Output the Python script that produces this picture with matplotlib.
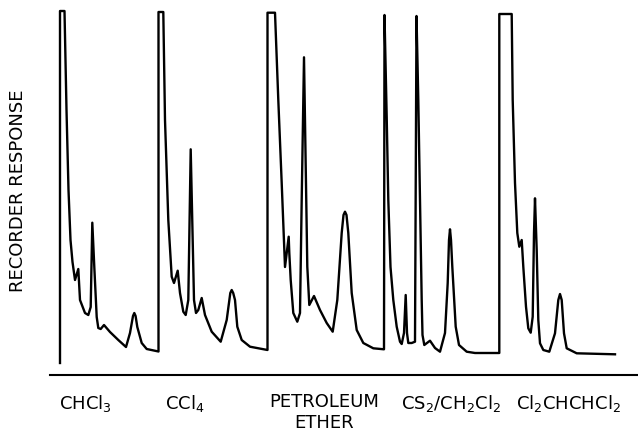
import matplotlib.pyplot as plt
import numpy as np

# chromatogram traces
# t = chart position (left to right), r = pen position measured down from the top of the chart
chcl3_t = [60, 60, 64.5, 66.5, 68.5, 70.5, 72.5, 75, 78.3, 80, 85, 88.3, 90.7, 92.3, 94.3,
           96.7, 98.3, 100.7, 104, 110, 118.3, 126, 130, 133, 134.3, 135.6, 137.3, 141.7,
           146.7, 158.5]
chcl3_r = [363, 11, 11, 110, 190, 240, 262, 280, 269, 300, 313, 315, 307, 222.7, 267,
           317, 328, 329, 325, 332, 340, 347, 333, 316, 313, 316, 327, 343,
           349, 351.5]

ccl4_t = [158.5, 158.5, 163.3, 165, 168.3, 171.7, 174, 177.7, 180, 183.3, 185.7, 188.3,
          190.7, 192.3, 194, 196, 198.3, 201.7, 205, 211.7, 220.7, 226.7, 230.3, 231.7,
          233.2, 235, 237.3, 241.7, 250, 267.5]
ccl4_r = [351.5, 12, 12, 120, 220, 276.7, 283, 270.7, 293, 311.7, 315, 300,
          149.3, 220, 300, 313, 310, 298, 315, 331.7, 341.7, 320, 293, 290,
          293, 300, 326.7, 340, 346.7, 350]

petrol_t = [267.5, 267.5, 275, 278.3, 281.7, 285, 288.7, 289.3, 290.7, 293.3, 297.3, 300,
            301.7, 304, 305.7, 307.3, 309.3, 314, 320, 326.7, 332.7, 337.3, 341.7, 343.5,
            345, 346.5, 348.3, 351.7, 356.7, 363.3, 373.3, 384]
petrol_r = [350, 12.7, 12.7, 100, 183, 267, 236.7, 253, 280, 313, 321.7, 313,
            200, 57.3, 166.7, 266.7, 305, 296, 310, 323, 331.7, 300, 233, 215,
            211.7, 215, 233, 293, 330, 343, 348.3, 349.3]

cs2_t = [384, 384.5, 386.7, 388.3, 390.5, 393.3, 396.7, 400, 401.7, 404, 405.7, 407,
         408.3, 411.7, 415, 416.5, 418.3, 420, 421.7, 422.5, 424.3, 430, 435, 440,
         445, 447.7, 449, 450, 451, 452.3, 455.7, 459, 466.7, 475, 499.3]
cs2_r = [349.3, 15, 117, 200, 267, 300, 326.7, 341.7, 344, 333, 295, 333,
         343, 343, 341.7, 16, 100, 200, 300, 335, 345, 340.7, 348, 351.7,
         333, 283, 240, 229.3, 240, 266.7, 326.7, 345, 351.7, 353, 353]

tce_t = [499.3, 499.3, 511.7, 512.7, 515, 517.3, 519.3, 521.7, 523.3, 526, 528.3, 530.7,
         532.7, 534, 535, 536.7, 538.3, 540, 543.3, 549.3, 555, 558.3, 560, 561.7,
         564, 566.7, 576.7, 615]
tce_r = [353, 14, 14, 100, 183, 233, 246.7, 240, 266.7, 306.7, 328.3, 332.7,
         316.7, 233, 198.3, 250, 320, 343.3, 350, 351.7, 333.3, 300, 294, 300,
         333.3, 348.3, 353.3, 354.3]

solvents = [r'CHCl$_3$', r'CCl$_4$', 'PETROLEUM\nETHER', r'CS$_2$/CH$_2$Cl$_2$',
            r'Cl$_2$CHCHCl$_2$']
solvent_pos = [85.5, 185, 324, 451, 568]

t = np.concatenate([chcl3_t, ccl4_t, petrol_t, cs2_t, tce_t])
r = np.concatenate([chcl3_r, ccl4_r, petrol_r, cs2_r, tce_r])

plt.rcParams['font.family'] = 'DejaVu Sans'

fig = plt.figure(figsize=(6.38, 4.37), dpi=100)
ax = fig.add_axes([50/638, 62/437, 588/638, 375/437])

ax.plot(t, r, color='black', linewidth=1.7, solid_joinstyle='round', clip_on=False)

ax.set_xlim(50, 638)
ax.set_ylim(375, 0)

for s in ['top', 'right', 'left']:
    ax.spines[s].set_visible(False)
ax.spines['bottom'].set_linewidth(1.5)

ax.set_yticks([])
ax.set_xticks(solvent_pos, solvents, fontsize=13)
ax.tick_params(axis='x', length=0, pad=13)

fig.text(18/638, 1 - 191/437, 'RECORDER RESPONSE', rotation=90, fontsize=13,
         ha='center', va='center')

fig.savefig('out.png', dpi=100)
